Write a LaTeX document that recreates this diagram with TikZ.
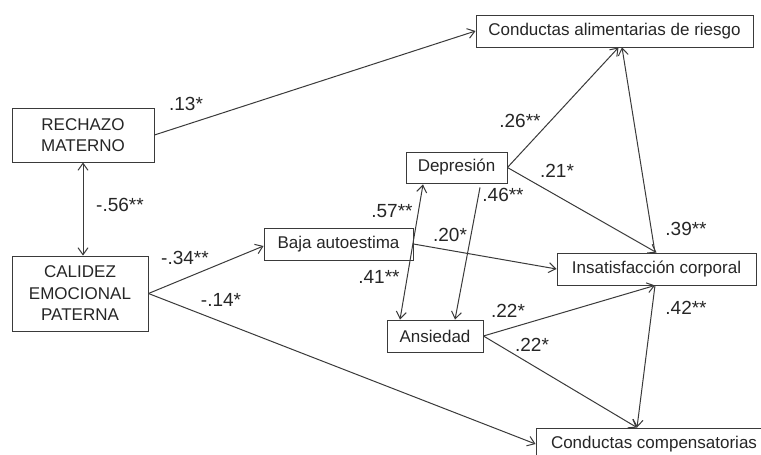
\documentclass[tikz,border=0pt]{standalone}
\usepackage{fontspec}
\setmainfont{Liberation Sans}
\usetikzlibrary{arrows.meta,calc}
\definecolor{ln}{HTML}{3A3A3A}
\definecolor{tx}{HTML}{262626}
\begin{document}
\begin{tikzpicture}[x=1pt,y=-1pt,
  box/.style={draw=ln, line width=0.9pt, fill=white, text=tx, inner sep=0pt,
    font=\fontsize{17}{21.5}\selectfont, align=center},
  arr/.style={draw=ln, line width=1pt, -{Straight Barb[length=7pt,width=10pt]}},
  dbl/.style={draw=ln, line width=1pt, {Straight Barb[length=7pt,width=10pt]}-{Straight Barb[length=7pt,width=10pt]}},
  lab/.style={text=tx, font=\fontsize{19}{21}\selectfont, inner sep=0pt}
]
\useasboundingbox (0,0) rectangle (761,455);
\clip (0,0) rectangle (761,455);
\fill[white] (0,0) rectangle (761,455);

% nodes
\node[box, minimum width=142pt, minimum height=54pt] (rech) at (83,135) {RECHAZO\\MATERNO};
\node[box, minimum width=136pt, minimum height=75pt] (cal) at (80,293.5) {CALIDEZ\\EMOCIONAL\\PATERNA};
\node[box, minimum width=149pt, minimum height=32pt] (baja) at (338.5,244) {Baja autoestima};
\node[box, minimum width=277pt, minimum height=32pt] (car) at (614.5,31) {Conductas alimentarias de riesgo};
\node[box, minimum width=101pt, minimum height=31pt] (dep) at (456.5,167.5) {Depresión};
\node[box, minimum width=199pt, minimum height=32pt] (ins) at (656.5,269) {Insatisfacción corporal};
\node[box, minimum width=96pt, minimum height=32pt] (ans) at (435,336) {Ansiedad};
\node[box, minimum width=236pt, minimum height=32pt] (cc) at (654,444) {Conductas compensatorias};

% connectors
\draw[arr] (rech.east) -- (car.west);
\draw[dbl] (rech.south) -- (rech.south |- cal.north);
\draw[arr] (cal.east) -- ([yshift=-2pt]baja.west);
\draw[arr] (cal.east) -- (cc.west);
\draw[arr] (baja.east) -- (ins.west);
\draw[dbl] ([xshift=-33.5pt,yshift=-1pt]dep.south) -- ([xshift=-35pt]ans.north);
\draw[arr] ([xshift=23.5pt,yshift=-4pt]dep.south) -- ([xshift=20pt]ans.north);
\draw[arr] (dep.east) -- ([xshift=4pt]car.south);
\draw[arr] (dep.east) -- (ins.north);
\draw[arr] ([xshift=-1.5pt]ins.north) -- ([xshift=7.5pt]car.south);
\draw[arr] (ans.east) -- ([xshift=-1.5pt]ins.south);
\draw[arr] (ans.east) -- ([xshift=-17pt]cc.north);
\draw[arr] ([xshift=-1.5pt]ins.south) -- ([xshift=-17pt]cc.north);

% labels
\node[lab] (l1) at (186,104) {.13*};
\node[lab] (l2) at (120,205) {-.56**};
\node[lab] (l3) at (185,258) {-.34**};
\node[lab] (l4) at (221,300) {-.14*};
\node[lab] (l5) at (392,211) {.57**};
\node[lab] (l6) at (503,195) {.46**};
\node[lab] (l7) at (450,235) {.20*};
\node[lab] (l8) at (379,277) {.41**};
\node[lab] (l9) at (508,311) {.22*};
\node[lab] (l10) at (532,345) {.22*};
\node[lab] (l11) at (520,121) {.26**};
\node[lab] (l12) at (557,171) {.21*};
\node[lab] (l13) at (686,229) {.39**};
\node[lab] (l14) at (686,308) {.42**};
\end{tikzpicture}
\end{document}
